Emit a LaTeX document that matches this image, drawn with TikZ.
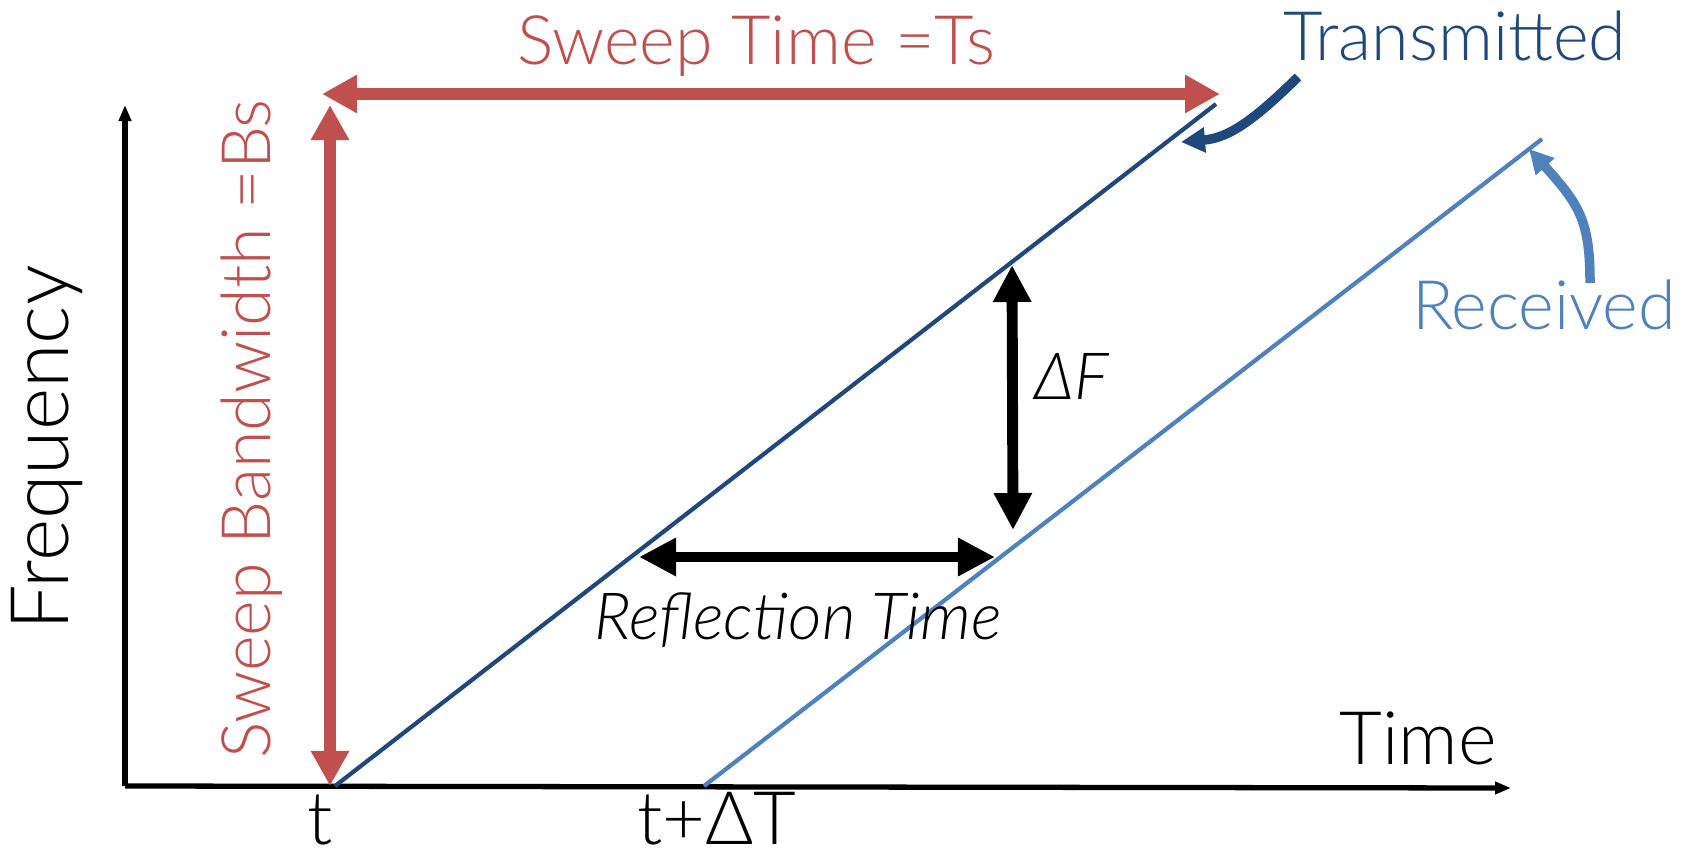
\documentclass[tikz,border=0pt]{standalone}
\usepackage{fontspec}
\setmainfont{Lato}[UprightFont=* Light, ItalicFont=* Light Italic]
\usetikzlibrary{arrows.meta}
\definecolor{sweepred}{RGB}{192,80,77}
\definecolor{txblue}{RGB}{31,73,125}
\definecolor{rxblue}{RGB}{79,129,189}
\tikzset{
  axis/.style={line width=1.5pt, -{Triangle[length=0.16cm,width=0.12cm]}},
  sweep/.style={line width=3.4pt, sweepred,
    {Triangle[length=0.35cm,width=0.36cm]}-{Triangle[length=0.35cm,width=0.36cm]}},
  measure/.style={line width=3.1pt,
    {Triangle[length=0.37cm,width=0.36cm]}-{Triangle[length=0.37cm,width=0.36cm]}},
  chirp/.style={line width=1.2pt},
  pointer/.style={line width=2.7pt, -{Triangle[length=0.24cm,width=0.24cm]}},
  lbl/.style={anchor=base, inner sep=0pt, font=\fontsize{19.4}{21}\selectfont},
  itlbl/.style={lbl, font=\fontsize{18.5}{20}\selectfont\itshape},
  biglbl/.style={lbl, font=\fontsize{21}{23}\selectfont},
}

\begin{document}
\begin{tikzpicture}[x=0.01cm, y=-0.01cm]
\useasboundingbox (0,0) rectangle (1692,855);

% ---- axes -----------------------------------------------------------------
\coordinate (origin) at (125,786);
\coordinate (ytop)   at (125,105);
\coordinate (xend)   at (1511,788);
\draw[axis] (origin) -- (ytop);
\draw[axis] (origin) -- (xend);

\node[biglbl, rotate=90, font=\fontsize{23}{25}\selectfont] (freq) at (68,448) {Frequency};
\node[biglbl] (time) at (1418,764) {Time};
\node[biglbl] (t0)   at (320,844) {t};
\node[biglbl] (t1)   at (717,844) {t+ΔT};

% ---- chirps ---------------------------------------------------------------
\coordinate (txstart) at (335,786);
\coordinate (txend)   at (1216,104);
\coordinate (rxstart) at (704,786);
\coordinate (rxend)   at (1542,139);
\draw[chirp, txblue] (txstart) -- (txend);
\draw[chirp, rxblue] (rxstart) -- (rxend);

% ---- sweep extents --------------------------------------------------------
\coordinate (bwlow)  at (330,786);
\coordinate (bwhigh) at (330,105);
\coordinate (tsleft) at (322,94);
\coordinate (tsright) at (1220,94);
\draw[sweep] (bwlow) -- (bwhigh);
\draw[sweep] (tsleft) -- (tsright);

\node[lbl, sweepred]            (tslbl) at (756,65)  {Sweep Time =Ts};
\node[lbl, sweepred, rotate=90] (bwlbl) at (270,429) {Sweep Bandwidth =Bs};

% ---- delay and beat -------------------------------------------------------
\coordinate (dftop) at (1012,265);
\coordinate (dfbot) at (1013,530);
\coordinate (rtleft)  at (639,557);
\coordinate (rtright) at (995,557);
\draw[measure] (dftop) -- (dfbot);
\draw[measure] (rtleft) -- (rtright);

\node[itlbl] (dflbl) at (1072,399) {ΔF};
\node[itlbl] (rtlbl) at (798,639) {Reflection Time};

% ---- legend pointers ------------------------------------------------------
\node[lbl, txblue] (txlbl) at (1455,61) {Transmitted};
\node[lbl, rxblue] (rxlbl) at (1544,329) {Received};
\coordinate (txfrom) at (1298,77);
\coordinate (txto)   at (1181,142);
\coordinate (rxfrom) at (1590,283);
\coordinate (rxto)   at (1529,149);
\draw[pointer, txblue] (txfrom) .. controls (1252,122) and (1228,138) .. (txto);
\draw[pointer, rxblue] (rxfrom) .. controls (1590,222) and (1580,205) .. (rxto);

\end{tikzpicture}
\end{document}
